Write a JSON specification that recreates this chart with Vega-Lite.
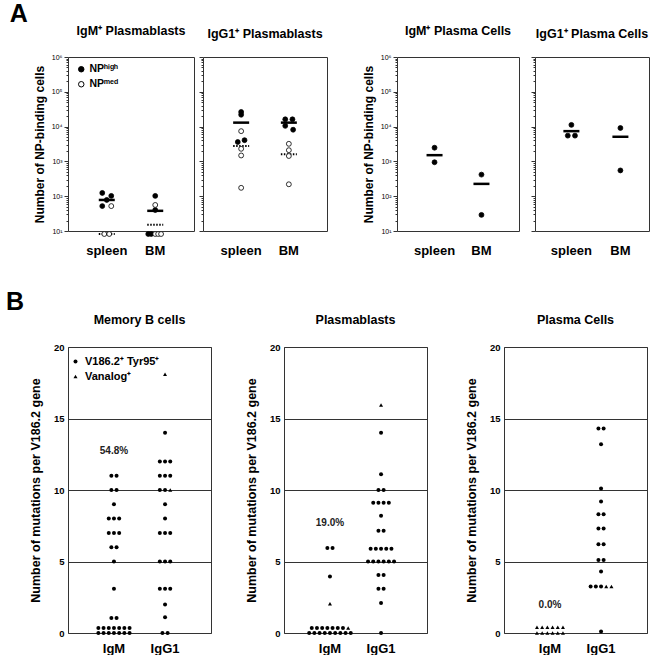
{
  "$schema": "https://vega.github.io/schema/vega-lite/v6.json",
  "background": "white",
  "padding": {"left": 5, "top": 2, "right": 5, "bottom": 0},
  "config": {
    "font": "Liberation Sans",
    "view": {"stroke": "#333", "strokeWidth": 1},
    "title": {"fontWeight": "bold", "fontSize": 12.5, "color": "black", "offset": 16, "anchor": "middle"},
    "axis": {"domain": false, "grid": false, "labelColor": "black", "titleColor": "black", "titleFontWeight": "bold", "labelFontWeight": "bold"},
    "legend": {"labelColor": "black"}
  },
  "datasets": {
    "npA": [
      {"p":"a1","g":"spleen","v":124,"s":-1,"n":"h"},
      {"p":"a1","g":"spleen","v":102,"s":1,"n":"h"},
      {"p":"a1","g":"spleen","v":78,"s":0,"n":"h"},
      {"p":"a1","g":"spleen","v":52,"s":-1,"n":"h"},
      {"p":"a1","g":"spleen","v":52,"s":1,"n":"m"},
      {"p":"a1","g":"spleen","v":8.2,"s":-0.55,"n":"m"},
      {"p":"a1","g":"spleen","v":8.2,"s":0.55,"n":"m"},
      {"p":"a1","g":"BM","v":102,"s":0,"n":"h"},
      {"p":"a1","g":"BM","v":40,"s":0,"n":"h"},
      {"p":"a1","g":"BM","v":56,"s":0,"n":"m"},
      {"p":"a1","g":"BM","v":8.2,"s":-1.55,"n":"h"},
      {"p":"a1","g":"BM","v":8.2,"s":-0.9,"n":"h"},
      {"p":"a1","g":"BM","v":8.2,"s":0,"n":"m"},
      {"p":"a1","g":"BM","v":8.2,"s":0.65,"n":"m"},
      {"p":"a1","g":"BM","v":8.2,"s":1.3,"n":"m"},
      {"p":"a2","g":"spleen","v":26300,"s":0,"n":"h"},
      {"p":"a2","g":"spleen","v":21900,"s":0,"n":"h"},
      {"p":"a2","g":"spleen","v":4070,"s":0.75,"n":"h"},
      {"p":"a2","g":"spleen","v":3600,"s":-0.75,"n":"h"},
      {"p":"a2","g":"spleen","v":7400,"s":0,"n":"m"},
      {"p":"a2","g":"spleen","v":2300,"s":0,"n":"m"},
      {"p":"a2","g":"spleen","v":1480,"s":0,"n":"m"},
      {"p":"a2","g":"spleen","v":174,"s":0,"n":"m"},
      {"p":"a2","g":"BM","v":16200,"s":-0.8,"n":"h"},
      {"p":"a2","g":"BM","v":16200,"s":0.8,"n":"h"},
      {"p":"a2","g":"BM","v":10500,"s":-0.8,"n":"h"},
      {"p":"a2","g":"BM","v":8130,"s":0.95,"n":"h"},
      {"p":"a2","g":"BM","v":3200,"s":0,"n":"m"},
      {"p":"a2","g":"BM","v":2100,"s":0,"n":"m"},
      {"p":"a2","g":"BM","v":1430,"s":0,"n":"m"},
      {"p":"a2","g":"BM","v":220,"s":0,"n":"m"},
      {"p":"a3","g":"spleen","v":2470,"s":0,"n":"h"},
      {"p":"a3","g":"spleen","v":945,"s":0,"n":"h"},
      {"p":"a3","g":"BM","v":417,"s":0,"n":"h"},
      {"p":"a3","g":"BM","v":29,"s":0,"n":"h"},
      {"p":"a4","g":"spleen","v":11200,"s":0,"n":"h"},
      {"p":"a4","g":"spleen","v":5500,"s":-0.8,"n":"h"},
      {"p":"a4","g":"spleen","v":5500,"s":0.8,"n":"h"},
      {"p":"a4","g":"BM","v":9100,"s":0,"n":"h"},
      {"p":"a4","g":"BM","v":550,"s":0,"n":"h"}
    ],
    "meanA": [
      {"p":"a1","g":"spleen","v":78,"k":"solid"},
      {"p":"a1","g":"spleen","v":8.2,"k":"dot"},
      {"p":"a1","g":"BM","v":38,"k":"solid"},
      {"p":"a1","g":"BM","v":15,"k":"dot"},
      {"p":"a2","g":"spleen","v":13000,"k":"solid"},
      {"p":"a2","g":"spleen","v":2770,"k":"dot"},
      {"p":"a2","g":"BM","v":13000,"k":"solid"},
      {"p":"a2","g":"BM","v":1600,"k":"dot"},
      {"p":"a3","g":"spleen","v":1510,"k":"solid"},
      {"p":"a3","g":"BM","v":226,"k":"solid"},
      {"p":"a4","g":"spleen","v":7400,"k":"solid"},
      {"p":"a4","g":"BM","v":5100,"k":"solid"}
    ],
    "mutB": [
      {"p":"b1","g":"IgM","v":11,"s":-0.5,"t":"d"},{"p":"b1","g":"IgM","v":11,"s":0.5,"t":"d"},
      {"p":"b1","g":"IgM","v":10,"s":-0.5,"t":"d"},{"p":"b1","g":"IgM","v":10,"s":0.5,"t":"d"},
      {"p":"b1","g":"IgM","v":9,"s":0,"t":"d"},
      {"p":"b1","g":"IgM","v":8,"s":-1,"t":"d"},{"p":"b1","g":"IgM","v":8,"s":0,"t":"d"},{"p":"b1","g":"IgM","v":8,"s":1,"t":"d"},
      {"p":"b1","g":"IgM","v":7,"s":-1,"t":"d"},{"p":"b1","g":"IgM","v":7,"s":0,"t":"d"},{"p":"b1","g":"IgM","v":7,"s":1,"t":"d"},
      {"p":"b1","g":"IgM","v":6,"s":-0.5,"t":"d"},{"p":"b1","g":"IgM","v":6,"s":0.5,"t":"d"},
      {"p":"b1","g":"IgM","v":5,"s":0,"t":"d"},
      {"p":"b1","g":"IgM","v":3.1,"s":0,"t":"d"},
      {"p":"b1","g":"IgM","v":1.05,"s":-0.5,"t":"d"},{"p":"b1","g":"IgM","v":1.05,"s":0.5,"t":"d"},
      {"p":"b1","g":"IgM","v":0.35,"s":-3,"t":"d"},{"p":"b1","g":"IgM","v":0.35,"s":-2,"t":"d"},{"p":"b1","g":"IgM","v":0.35,"s":-1,"t":"d"},{"p":"b1","g":"IgM","v":0.35,"s":0,"t":"d"},{"p":"b1","g":"IgM","v":0.35,"s":1,"t":"d"},{"p":"b1","g":"IgM","v":0.35,"s":2,"t":"d"},{"p":"b1","g":"IgM","v":0.35,"s":3,"t":"d"},
      {"p":"b1","g":"IgM","v":0,"s":-3,"t":"d"},{"p":"b1","g":"IgM","v":0,"s":-2,"t":"d"},{"p":"b1","g":"IgM","v":0,"s":-1,"t":"d"},{"p":"b1","g":"IgM","v":0,"s":0,"t":"d"},{"p":"b1","g":"IgM","v":0,"s":1,"t":"d"},{"p":"b1","g":"IgM","v":0,"s":2,"t":"d"},{"p":"b1","g":"IgM","v":0,"s":3,"t":"d"},
      {"p":"b1","g":"IgG1","v":18.1,"s":0,"t":"t"},
      {"p":"b1","g":"IgG1","v":14,"s":0,"t":"d"},
      {"p":"b1","g":"IgG1","v":12,"s":-1,"t":"d"},{"p":"b1","g":"IgG1","v":12,"s":0,"t":"d"},{"p":"b1","g":"IgG1","v":12,"s":1,"t":"d"},
      {"p":"b1","g":"IgG1","v":11,"s":-1,"t":"d"},{"p":"b1","g":"IgG1","v":11,"s":0,"t":"d"},{"p":"b1","g":"IgG1","v":11,"s":1,"t":"d"},
      {"p":"b1","g":"IgG1","v":10,"s":-1,"t":"d"},{"p":"b1","g":"IgG1","v":10,"s":0,"t":"d"},{"p":"b1","g":"IgG1","v":10,"s":1,"t":"t"},
      {"p":"b1","g":"IgG1","v":9,"s":0,"t":"d"},
      {"p":"b1","g":"IgG1","v":8,"s":0,"t":"d"},
      {"p":"b1","g":"IgG1","v":7,"s":-1,"t":"d"},{"p":"b1","g":"IgG1","v":7,"s":0,"t":"d"},{"p":"b1","g":"IgG1","v":7,"s":1,"t":"d"},
      {"p":"b1","g":"IgG1","v":5,"s":-1,"t":"d"},{"p":"b1","g":"IgG1","v":5,"s":0,"t":"d"},{"p":"b1","g":"IgG1","v":5,"s":1,"t":"d"},
      {"p":"b1","g":"IgG1","v":3.1,"s":-1,"t":"d"},{"p":"b1","g":"IgG1","v":3.1,"s":0,"t":"d"},{"p":"b1","g":"IgG1","v":3.1,"s":1,"t":"d"},
      {"p":"b1","g":"IgG1","v":2,"s":0,"t":"d"},
      {"p":"b1","g":"IgG1","v":1.1,"s":0,"t":"d"},
      {"p":"b1","g":"IgG1","v":0,"s":-0.5,"t":"d"},{"p":"b1","g":"IgG1","v":0,"s":0.5,"t":"d"},
      {"p":"b2","g":"IgM","v":5.95,"s":-0.5,"t":"d"},{"p":"b2","g":"IgM","v":5.95,"s":0.5,"t":"d"},
      {"p":"b2","g":"IgM","v":3.95,"s":0,"t":"d"},
      {"p":"b2","g":"IgM","v":2.05,"s":0,"t":"t"},
      {"p":"b2","g":"IgM","v":0.35,"s":-3.5,"t":"d"},{"p":"b2","g":"IgM","v":0.35,"s":-2.5,"t":"d"},{"p":"b2","g":"IgM","v":0.35,"s":-1.5,"t":"d"},{"p":"b2","g":"IgM","v":0.35,"s":-0.5,"t":"d"},{"p":"b2","g":"IgM","v":0.35,"s":0.5,"t":"d"},{"p":"b2","g":"IgM","v":0.35,"s":1.5,"t":"d"},{"p":"b2","g":"IgM","v":0.35,"s":2.5,"t":"d"},{"p":"b2","g":"IgM","v":0.35,"s":3.5,"t":"t"},
      {"p":"b2","g":"IgM","v":0,"s":-4,"t":"d"},{"p":"b2","g":"IgM","v":0,"s":-3,"t":"d"},{"p":"b2","g":"IgM","v":0,"s":-2,"t":"d"},{"p":"b2","g":"IgM","v":0,"s":-1,"t":"d"},{"p":"b2","g":"IgM","v":0,"s":0,"t":"d"},{"p":"b2","g":"IgM","v":0,"s":1,"t":"d"},{"p":"b2","g":"IgM","v":0,"s":2,"t":"d"},{"p":"b2","g":"IgM","v":0,"s":3,"t":"d"},{"p":"b2","g":"IgM","v":0,"s":4,"t":"d"},
      {"p":"b2","g":"IgG1","v":15.95,"s":0,"t":"t"},
      {"p":"b2","g":"IgG1","v":14,"s":0,"t":"d"},
      {"p":"b2","g":"IgG1","v":11.1,"s":0,"t":"d"},
      {"p":"b2","g":"IgG1","v":10,"s":-0.5,"t":"d"},{"p":"b2","g":"IgG1","v":10,"s":0.5,"t":"d"},
      {"p":"b2","g":"IgG1","v":9.1,"s":-1.5,"t":"d"},{"p":"b2","g":"IgG1","v":9.1,"s":-0.5,"t":"d"},{"p":"b2","g":"IgG1","v":9.1,"s":0.5,"t":"d"},{"p":"b2","g":"IgG1","v":9.1,"s":1.5,"t":"d"},
      {"p":"b2","g":"IgG1","v":8.2,"s":0,"t":"d"},
      {"p":"b2","g":"IgG1","v":7.15,"s":-0.5,"t":"d"},{"p":"b2","g":"IgG1","v":7.15,"s":0.5,"t":"d"},
      {"p":"b2","g":"IgG1","v":5.9,"s":-2,"t":"d"},{"p":"b2","g":"IgG1","v":5.9,"s":-1,"t":"d"},{"p":"b2","g":"IgG1","v":5.9,"s":0,"t":"d"},{"p":"b2","g":"IgG1","v":5.9,"s":1,"t":"d"},{"p":"b2","g":"IgG1","v":5.9,"s":2,"t":"d"},
      {"p":"b2","g":"IgG1","v":5,"s":-2.5,"t":"d"},{"p":"b2","g":"IgG1","v":5,"s":-1.5,"t":"d"},{"p":"b2","g":"IgG1","v":5,"s":-0.5,"t":"d"},{"p":"b2","g":"IgG1","v":5,"s":0.5,"t":"d"},{"p":"b2","g":"IgG1","v":5,"s":1.5,"t":"d"},{"p":"b2","g":"IgG1","v":5,"s":2.5,"t":"d"},
      {"p":"b2","g":"IgG1","v":4.05,"s":-0.5,"t":"d"},{"p":"b2","g":"IgG1","v":4.05,"s":0.5,"t":"d"},
      {"p":"b2","g":"IgG1","v":3.1,"s":-0.5,"t":"d"},{"p":"b2","g":"IgG1","v":3.1,"s":0.5,"t":"d"},
      {"p":"b2","g":"IgG1","v":2.1,"s":0,"t":"d"},
      {"p":"b2","g":"IgG1","v":0,"s":0,"t":"d"},
      {"p":"b3","g":"IgM","v":0.4,"s":-2.5,"t":"t"},{"p":"b3","g":"IgM","v":0.4,"s":-1.5,"t":"t"},{"p":"b3","g":"IgM","v":0.4,"s":-0.5,"t":"t"},{"p":"b3","g":"IgM","v":0.4,"s":0.5,"t":"t"},{"p":"b3","g":"IgM","v":0.4,"s":1.5,"t":"t"},{"p":"b3","g":"IgM","v":0.4,"s":2.5,"t":"t"},
      {"p":"b3","g":"IgM","v":0,"s":-2.5,"t":"t"},{"p":"b3","g":"IgM","v":0,"s":-1.5,"t":"t"},{"p":"b3","g":"IgM","v":0,"s":-0.5,"t":"t"},{"p":"b3","g":"IgM","v":0,"s":0.5,"t":"t"},{"p":"b3","g":"IgM","v":0,"s":1.5,"t":"t"},{"p":"b3","g":"IgM","v":0,"s":2.5,"t":"t"},
      {"p":"b3","g":"IgG1","v":14.3,"s":-0.5,"t":"d"},{"p":"b3","g":"IgG1","v":14.3,"s":0.5,"t":"d"},
      {"p":"b3","g":"IgG1","v":13.2,"s":0,"t":"d"},
      {"p":"b3","g":"IgG1","v":10.1,"s":0,"t":"d"},
      {"p":"b3","g":"IgG1","v":9.2,"s":0,"t":"d"},
      {"p":"b3","g":"IgG1","v":8.3,"s":-0.5,"t":"d"},{"p":"b3","g":"IgG1","v":8.3,"s":0.5,"t":"d"},
      {"p":"b3","g":"IgG1","v":7.3,"s":-0.5,"t":"d"},{"p":"b3","g":"IgG1","v":7.3,"s":0.5,"t":"d"},
      {"p":"b3","g":"IgG1","v":6.2,"s":-0.5,"t":"d"},{"p":"b3","g":"IgG1","v":6.2,"s":0.5,"t":"d"},
      {"p":"b3","g":"IgG1","v":5.1,"s":-0.5,"t":"d"},{"p":"b3","g":"IgG1","v":5.1,"s":0.5,"t":"d"},
      {"p":"b3","g":"IgG1","v":4.3,"s":0,"t":"d"},
      {"p":"b3","g":"IgG1","v":3.25,"s":-2,"t":"d"},{"p":"b3","g":"IgG1","v":3.25,"s":-1,"t":"d"},{"p":"b3","g":"IgG1","v":3.25,"s":0,"t":"d"},{"p":"b3","g":"IgG1","v":3.25,"s":1,"t":"t"},{"p":"b3","g":"IgG1","v":3.25,"s":2,"t":"t"},
      {"p":"b3","g":"IgG1","v":0.1,"s":0,"t":"d"}
    ],
    "pctB": [
      {"p":"b1","g":"IgM","v":12.7,"label":"54.8%"},
      {"p":"b2","g":"IgM","v":7.67,"label":"19.0%"},
      {"p":"b3","g":"IgM","v":1.93,"label":"0.0%"}
    ]
  },
  "spacing": 32,
  "resolve": {"scale": {"fill": "independent", "shape": "independent", "xOffset": "independent"}, "legend": {"fill": "independent", "shape": "independent"}},
  "vconcat": [
    {
      "title": {"text": "A", "anchor": "start", "frame": "bounds", "fontSize": 25, "dx": -23, "offset": -3},
      "spacing": 33,
      "resolve": {"scale": {"fill": "independent", "shape": "independent", "xOffset": "independent"}, "legend": {"fill": "independent", "shape": "independent"}},
      "hconcat": [
        {
          "spacing": 3,
          "resolve": {"scale": {"fill": "independent", "shape": "independent", "xOffset": "independent"}, "legend": {"fill": "independent", "shape": "independent"}},
          "hconcat": [
            {
              "width": 126, "height": 174,
              "title": {"text": "IgM⁺ Plasmablasts"},
              "layer": [
                {
                  "data": {"name": "meanA"},
                  "transform": [{"filter": "datum.p == 'a1' && datum.k == 'dot'"}],
                  "mark": {"type": "point", "shape": "M-1,0L1,0", "size": 256, "filled": false, "stroke": "black", "strokeWidth": 2, "strokeDash": [1.5, 1.5], "opacity": 1},
                  "encoding": {
                    "x": {"field": "g", "type": "nominal", "scale": {"domain": ["spleen", "BM"], "paddingInner": 1, "paddingOuter": 0.8}, "axis": {"title": null, "labelAngle": 0, "labelFontSize": 13, "labelPadding": 13, "ticks": false}},
                    "y": {"field": "v", "type": "quantitative", "scale": {"type": "log", "domain": [10, 1000000], "nice": false},
                      "axis": {"title": "Number of NP-binding cells", "titleFontSize": 12, "titlePadding": 5,
                        "values": [10,20,30,40,50,60,70,80,90,100,200,300,400,500,600,700,800,900,1000,2000,3000,4000,5000,6000,7000,8000,9000,10000,20000,30000,40000,50000,60000,70000,80000,90000,100000,200000,300000,400000,500000,600000,700000,800000,900000,1000000],
                        "labelExpr": "datum.value==10?'10¹':datum.value==100?'10²':datum.value==1000?'10³':datum.value==10000?'10⁴':datum.value==100000?'10⁵':datum.value==1000000?'10⁶':''",
                        "labelOverlap": false, "labelFontSize": 7, "labelFontWeight": "normal", "labelPadding": 2, "tickColor": "#333",
                        "tickSize": {"condition": {"test": "datum.value==10||datum.value==100||datum.value==1000||datum.value==10000||datum.value==100000||datum.value==1000000", "value": 4}, "value": 2}}}
                  }
                },
                {
                  "data": {"name": "npA"},
                  "transform": [{"filter": "datum.p == 'a1'"}],
                  "mark": {"type": "point", "filled": true, "stroke": "black", "strokeWidth": 0.8, "size": 24, "opacity": 1},
                  "encoding": {
                    "x": {"field": "g", "type": "nominal", "scale": {"domain": ["spleen", "BM"], "paddingInner": 1, "paddingOuter": 0.8}},
                    "xOffset": {"field": "s", "type": "quantitative", "scale": {"domain": [-1, 1], "range": [-4.5, 4.5]}},
                    "y": {"field": "v", "type": "quantitative", "scale": {"type": "log", "domain": [10, 1000000], "nice": false}},
                    "fill": {"field": "n", "type": "nominal", "scale": {"domain": ["h", "m"], "range": ["black", "white"]},
                      "legend": {"orient": "none", "legendX": 8, "legendY": 7, "title": null, "labelExpr": "datum.value=='h'?'NPʰⁱᵍʰ':'NPᵐᵉᵈ'", "labelFontSize": 10.5, "labelFontWeight": "bold", "symbolSize": 30, "symbolType": "circle", "symbolStrokeColor": "black", "symbolStrokeWidth": 1, "rowPadding": 4, "labelOffset": 3}}
                  }
                },
                {
                  "data": {"name": "meanA"},
                  "transform": [{"filter": "datum.p == 'a1' && datum.k == 'solid'"}],
                  "mark": {"type": "point", "shape": "M-1,0L1,0", "size": 256, "filled": false, "stroke": "black", "strokeWidth": 2.5, "opacity": 1},
                  "encoding": {
                    "x": {"field": "g", "type": "nominal", "scale": {"domain": ["spleen", "BM"], "paddingInner": 1, "paddingOuter": 0.8}},
                    "y": {"field": "v", "type": "quantitative", "scale": {"type": "log", "domain": [10, 1000000], "nice": false}}
                  }
                }
              ]
            },
            {
              "width": 124, "height": 174,
              "title": {"text": "IgG1⁺ Plasmablasts"},
              "layer": [
                {
                  "data": {"name": "meanA"},
                  "transform": [{"filter": "datum.p == 'a2' && datum.k == 'dot'"}],
                  "mark": {"type": "point", "shape": "M-1,0L1,0", "size": 256, "filled": false, "stroke": "black", "strokeWidth": 2, "strokeDash": [1.5, 1.5], "opacity": 1},
                  "encoding": {
                    "x": {"field": "g", "type": "nominal", "scale": {"domain": ["spleen", "BM"], "paddingInner": 1, "paddingOuter": 0.8}, "axis": {"title": null, "labelAngle": 0, "labelFontSize": 13, "labelPadding": 13, "ticks": false}},
                    "y": {"field": "v", "type": "quantitative", "scale": {"type": "log", "domain": [10, 1000000], "nice": false},
                      "axis": {"title": null, "labels": false,
                        "values": [10,20,30,40,50,60,70,80,90,100,200,300,400,500,600,700,800,900,1000,2000,3000,4000,5000,6000,7000,8000,9000,10000,20000,30000,40000,50000,60000,70000,80000,90000,100000,200000,300000,400000,500000,600000,700000,800000,900000,1000000],
                        "tickColor": "#333",
                        "tickSize": {"condition": {"test": "datum.value==10||datum.value==100||datum.value==1000||datum.value==10000||datum.value==100000||datum.value==1000000", "value": 4}, "value": 2}}}
                  }
                },
                {
                  "data": {"name": "npA"},
                  "transform": [{"filter": "datum.p == 'a2'"}],
                  "mark": {"type": "point", "filled": true, "stroke": "black", "strokeWidth": 0.8, "size": 24, "opacity": 1},
                  "encoding": {
                    "x": {"field": "g", "type": "nominal", "scale": {"domain": ["spleen", "BM"], "paddingInner": 1, "paddingOuter": 0.8}},
                    "xOffset": {"field": "s", "type": "quantitative", "scale": {"domain": [-1, 1], "range": [-4.5, 4.5]}},
                    "y": {"field": "v", "type": "quantitative", "scale": {"type": "log", "domain": [10, 1000000], "nice": false}},
                    "fill": {"field": "n", "type": "nominal", "scale": {"domain": ["h", "m"], "range": ["black", "white"]}, "legend": null}
                  }
                },
                {
                  "data": {"name": "meanA"},
                  "transform": [{"filter": "datum.p == 'a2' && datum.k == 'solid'"}],
                  "mark": {"type": "point", "shape": "M-1,0L1,0", "size": 256, "filled": false, "stroke": "black", "strokeWidth": 2.5, "opacity": 1},
                  "encoding": {
                    "x": {"field": "g", "type": "nominal", "scale": {"domain": ["spleen", "BM"], "paddingInner": 1, "paddingOuter": 0.8}},
                    "y": {"field": "v", "type": "quantitative", "scale": {"type": "log", "domain": [10, 1000000], "nice": false}}
                  }
                }
              ]
            }
          ]
        },
        {
          "spacing": 10,
          "resolve": {"scale": {"fill": "independent", "shape": "independent", "xOffset": "independent"}, "legend": {"fill": "independent", "shape": "independent"}},
          "hconcat": [
            {
              "width": 122, "height": 174,
              "title": {"text": "IgM⁺ Plasma Cells"},
              "layer": [
                {
                  "data": {"name": "npA"},
                  "transform": [{"filter": "datum.p == 'a3'"}],
                  "mark": {"type": "point", "filled": true, "stroke": "black", "strokeWidth": 0.8, "size": 24, "opacity": 1},
                  "encoding": {
                    "x": {"field": "g", "type": "nominal", "scale": {"domain": ["spleen", "BM"], "paddingInner": 1, "paddingOuter": 0.8}, "axis": {"title": null, "labelAngle": 0, "labelFontSize": 13, "labelPadding": 13, "ticks": false}},
                    "xOffset": {"field": "s", "type": "quantitative", "scale": {"domain": [-1, 1], "range": [-4.5, 4.5]}},
                    "y": {"field": "v", "type": "quantitative", "scale": {"type": "log", "domain": [10, 1000000], "nice": false},
                      "axis": {"title": "Number of NP-binding cells", "titleFontSize": 12, "titlePadding": 5,
                        "values": [10,20,30,40,50,60,70,80,90,100,200,300,400,500,600,700,800,900,1000,2000,3000,4000,5000,6000,7000,8000,9000,10000,20000,30000,40000,50000,60000,70000,80000,90000,100000,200000,300000,400000,500000,600000,700000,800000,900000,1000000],
                        "labelExpr": "datum.value==10?'10¹':datum.value==100?'10²':datum.value==1000?'10³':datum.value==10000?'10⁴':datum.value==100000?'10⁵':datum.value==1000000?'10⁶':''",
                        "labelOverlap": false, "labelFontSize": 7, "labelFontWeight": "normal", "labelPadding": 2, "tickColor": "#333",
                        "tickSize": {"condition": {"test": "datum.value==10||datum.value==100||datum.value==1000||datum.value==10000||datum.value==100000||datum.value==1000000", "value": 4}, "value": 2}}},
                    "fill": {"field": "n", "type": "nominal", "scale": {"domain": ["h", "m"], "range": ["black", "white"]}, "legend": null}
                  }
                },
                {
                  "data": {"name": "meanA"},
                  "transform": [{"filter": "datum.p == 'a3' && datum.k == 'solid'"}],
                  "mark": {"type": "point", "shape": "M-1,0L1,0", "size": 256, "filled": false, "stroke": "black", "strokeWidth": 2.5, "opacity": 1},
                  "encoding": {
                    "x": {"field": "g", "type": "nominal", "scale": {"domain": ["spleen", "BM"], "paddingInner": 1, "paddingOuter": 0.8}},
                    "y": {"field": "v", "type": "quantitative", "scale": {"type": "log", "domain": [10, 1000000], "nice": false}}
                  }
                }
              ]
            },
            {
              "width": 114, "height": 174,
              "title": {"text": "IgG1⁺ Plasma Cells"},
              "layer": [
                {
                  "data": {"name": "npA"},
                  "transform": [{"filter": "datum.p == 'a4'"}],
                  "mark": {"type": "point", "filled": true, "stroke": "black", "strokeWidth": 0.8, "size": 24, "opacity": 1},
                  "encoding": {
                    "x": {"field": "g", "type": "nominal", "scale": {"domain": ["spleen", "BM"], "paddingInner": 1, "paddingOuter": 0.663, "align": 0.56}, "axis": {"title": null, "labelAngle": 0, "labelFontSize": 13, "labelPadding": 13, "ticks": false}},
                    "xOffset": {"field": "s", "type": "quantitative", "scale": {"domain": [-1, 1], "range": [-4.5, 4.5]}},
                    "y": {"field": "v", "type": "quantitative", "scale": {"type": "log", "domain": [10, 1000000], "nice": false},
                      "axis": {"title": null, "labels": false,
                        "values": [10,20,30,40,50,60,70,80,90,100,200,300,400,500,600,700,800,900,1000,2000,3000,4000,5000,6000,7000,8000,9000,10000,20000,30000,40000,50000,60000,70000,80000,90000,100000,200000,300000,400000,500000,600000,700000,800000,900000,1000000],
                        "tickColor": "#333",
                        "tickSize": {"condition": {"test": "datum.value==10||datum.value==100||datum.value==1000||datum.value==10000||datum.value==100000||datum.value==1000000", "value": 4}, "value": 2}}},
                    "fill": {"field": "n", "type": "nominal", "scale": {"domain": ["h", "m"], "range": ["black", "white"]}, "legend": null}
                  }
                },
                {
                  "data": {"name": "meanA"},
                  "transform": [{"filter": "datum.p == 'a4' && datum.k == 'solid'"}],
                  "mark": {"type": "point", "shape": "M-1,0L1,0", "size": 256, "filled": false, "stroke": "black", "strokeWidth": 2.5, "opacity": 1},
                  "encoding": {
                    "x": {"field": "g", "type": "nominal", "scale": {"domain": ["spleen", "BM"], "paddingInner": 1, "paddingOuter": 0.663, "align": 0.56}},
                    "y": {"field": "v", "type": "quantitative", "scale": {"type": "log", "domain": [10, 1000000], "nice": false}}
                  }
                }
              ]
            }
          ]
        }
      ]
    },
    {
      "title": {"text": "B", "anchor": "start", "frame": "bounds", "fontSize": 25, "dx": -23, "offset": -2},
      "spacing": 36,
      "resolve": {"scale": {"fill": "independent", "shape": "independent", "xOffset": "independent"}, "legend": {"fill": "independent", "shape": "independent"}},
      "hconcat": [
        {
          "spacing": 32,
          "resolve": {"scale": {"fill": "independent", "shape": "independent", "xOffset": "independent"}, "legend": {"fill": "independent", "shape": "independent"}},
          "hconcat": [
            {
              "width": 143, "height": 286,
              "title": {"text": "Memory B cells"},
              "layer": [
                {
                  "data": {"name": "mutB"},
                  "transform": [{"filter": "datum.p == 'b1'"}],
                  "mark": {"type": "point", "filled": true, "opacity": 1, "size": 16, "color": "black"},
                  "encoding": {
                    "x": {"field": "g", "type": "nominal", "scale": {"domain": ["IgM", "IgG1"], "paddingInner": 1, "paddingOuter": 0.9}, "axis": {"title": null, "labelAngle": 0, "labelFontSize": 13, "labelPadding": 9, "ticks": false}},
                    "xOffset": {"field": "s", "type": "quantitative", "scale": {"domain": [-1, 1], "range": [-5.2, 5.2]}},
                    "y": {"field": "v", "type": "quantitative", "scale": {"domain": [0, 20], "nice": false, "zero": true},
                      "axis": {"title": "Number of mutations per V186.2 gene", "titleFontSize": 12.5, "titlePadding": 11, "values": [0, 5, 10, 15, 20], "grid": true, "gridColor": "#333", "gridOpacity": 1, "ticks": false, "labelFontSize": 9.5, "labelPadding": 4}},
                    "shape": {"field": "t", "type": "nominal", "scale": {"domain": ["d", "t"], "range": ["circle", "triangle-up"]},
                      "legend": {"orient": "none", "legendX": 2, "legendY": 9, "title": null, "labelExpr": "datum.value=='d'?'V186.2⁺ Tyr95⁺':'Vanalog⁺'", "labelFontSize": 11, "labelFontWeight": "bold", "symbolSize": 16, "symbolFillColor": "black", "symbolStrokeWidth": 0, "rowPadding": 3, "labelOffset": 4}}
                  }
                },
                {
                  "data": {"name": "pctB"},
                  "transform": [{"filter": "datum.p == 'b1'"}],
                  "mark": {"type": "text", "fontSize": 10, "fontWeight": "bold", "color": "#222"},
                  "encoding": {
                    "x": {"field": "g", "type": "nominal", "scale": {"domain": ["IgM", "IgG1"], "paddingInner": 1, "paddingOuter": 0.9}},
                    "y": {"field": "v", "type": "quantitative", "scale": {"domain": [0, 20], "nice": false, "zero": true}},
                    "text": {"field": "label"}
                  }
                }
              ]
            },
            {
              "width": 143, "height": 286,
              "title": {"text": "Plasmablasts"},
              "layer": [
                {
                  "data": {"name": "mutB"},
                  "transform": [{"filter": "datum.p == 'b2'"}],
                  "mark": {"type": "point", "filled": true, "opacity": 1, "size": 16, "color": "black"},
                  "encoding": {
                    "x": {"field": "g", "type": "nominal", "scale": {"domain": ["IgM", "IgG1"], "paddingInner": 1, "paddingOuter": 0.9}, "axis": {"title": null, "labelAngle": 0, "labelFontSize": 13, "labelPadding": 9, "ticks": false}},
                    "xOffset": {"field": "s", "type": "quantitative", "scale": {"domain": [-1, 1], "range": [-5.2, 5.2]}},
                    "y": {"field": "v", "type": "quantitative", "scale": {"domain": [0, 20], "nice": false, "zero": true},
                      "axis": {"title": "Number of mutations per V186.2 gene", "titleFontSize": 12.5, "titlePadding": 11, "values": [0, 5, 10, 15, 20], "grid": true, "gridColor": "#333", "gridOpacity": 1, "ticks": false, "labelFontSize": 9.5, "labelPadding": 4}},
                    "shape": {"field": "t", "type": "nominal", "scale": {"domain": ["d", "t"], "range": ["circle", "triangle-up"]}, "legend": null}
                  }
                },
                {
                  "data": {"name": "pctB"},
                  "transform": [{"filter": "datum.p == 'b2'"}],
                  "mark": {"type": "text", "fontSize": 10, "fontWeight": "bold", "color": "#222"},
                  "encoding": {
                    "x": {"field": "g", "type": "nominal", "scale": {"domain": ["IgM", "IgG1"], "paddingInner": 1, "paddingOuter": 0.9}},
                    "y": {"field": "v", "type": "quantitative", "scale": {"domain": [0, 20], "nice": false, "zero": true}},
                    "text": {"field": "label"}
                  }
                }
              ]
            }
          ]
        },
        {
          "width": 143, "height": 286,
          "title": {"text": "Plasma Cells"},
          "layer": [
            {
              "data": {"name": "mutB"},
              "transform": [{"filter": "datum.p == 'b3'"}],
              "mark": {"type": "point", "filled": true, "opacity": 1, "size": 16, "color": "black"},
              "encoding": {
                "x": {"field": "g", "type": "nominal", "scale": {"domain": ["IgM", "IgG1"], "paddingInner": 1, "paddingOuter": 0.9}, "axis": {"title": null, "labelAngle": 0, "labelFontSize": 13, "labelPadding": 9, "ticks": false}},
                "xOffset": {"field": "s", "type": "quantitative", "scale": {"domain": [-1, 1], "range": [-5.2, 5.2]}},
                "y": {"field": "v", "type": "quantitative", "scale": {"domain": [0, 20], "nice": false, "zero": true},
                  "axis": {"title": "Number of mutations per V186.2 gene", "titleFontSize": 12.5, "titlePadding": 11, "values": [0, 5, 10, 15, 20], "grid": true, "gridColor": "#333", "gridOpacity": 1, "ticks": false, "labelFontSize": 9.5, "labelPadding": 4}},
                "shape": {"field": "t", "type": "nominal", "scale": {"domain": ["d", "t"], "range": ["circle", "triangle-up"]}, "legend": null}
              }
            },
            {
              "data": {"name": "pctB"},
              "transform": [{"filter": "datum.p == 'b3'"}],
              "mark": {"type": "text", "fontSize": 10, "fontWeight": "bold", "color": "#222"},
              "encoding": {
                "x": {"field": "g", "type": "nominal", "scale": {"domain": ["IgM", "IgG1"], "paddingInner": 1, "paddingOuter": 0.9}},
                "y": {"field": "v", "type": "quantitative", "scale": {"domain": [0, 20], "nice": false, "zero": true}},
                "text": {"field": "label"}
              }
            }
          ]
        }
      ]
    }
  ]
}
